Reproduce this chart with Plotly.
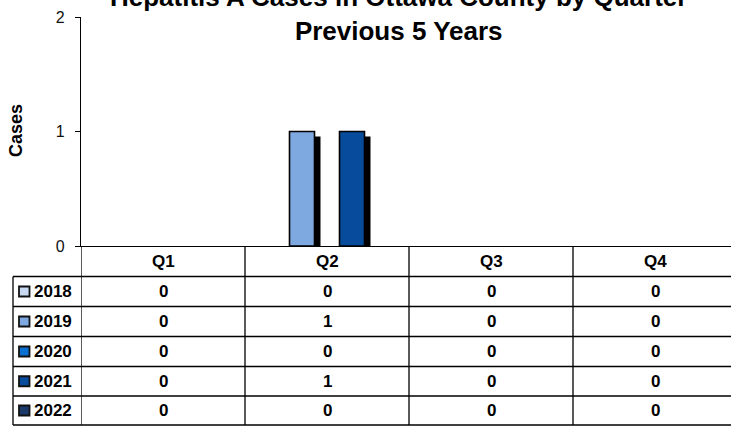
import plotly.graph_objects as go

# --- data -------------------------------------------------------------
quarters = ["Q1", "Q2", "Q3", "Q4"]
years = ["2018", "2019", "2020", "2021", "2022"]
cases_2018 = [0, 0, 0, 0]
cases_2019 = [0, 1, 0, 0]
cases_2020 = [0, 0, 0, 0]
cases_2021 = [0, 1, 0, 0]
cases_2022 = [0, 0, 0, 0]
series = [cases_2018, cases_2019, cases_2020, cases_2021, cases_2022]
y_ticks = [0, 1, 2]

colors = ["#C6D9F1", "#7EA8E0", "#0A70D2", "#074C9C", "#1C3A69"]
FONT = "Arial, Liberation Sans, sans-serif"

# --- layout geometry (pixels) ---------------------------------------
W, H = 731, 427
L, T, R, B = 81, 17, 731, 246          # plot area edges
COL_W = 164                           # width of one quarter column
ROW_EDGES = [246, 276.5, 306.5, 336.5, 366.5, 396, 425]
TABLE_LEFT = 13
PX_PER_UNIT = (B - T) / (y_ticks[-1] - y_ticks[0])
TABLE_FONT = dict(family=FONT, size=17, color="black")


def px_x(px):
    return (px - L) / (R - L)


def px_y(py):
    return (B - py) / (B - T)


slot = 25 / COL_W                     # width of one bar slot in category units
shadow_dx = 6 / COL_W
shadow_dy = 5 / PX_PER_UNIT

fig = go.Figure()

# drop shadows first so the coloured bars sit on top
for i, vals in enumerate(series):
    fig.add_trace(go.Bar(
        x=quarters,
        y=[v - shadow_dy if v > 0 else None for v in vals],
        width=slot, offset=(i - 2.5) * slot + shadow_dx,
        marker=dict(color="black", line=dict(width=0)),
        showlegend=False, hoverinfo="skip",
    ))

for i, (yr, vals) in enumerate(zip(years, series)):
    fig.add_trace(go.Bar(
        x=quarters, y=[v if v > 0 else None for v in vals], name=yr,
        width=slot, offset=(i - 2.5) * slot,
        marker=dict(color=colors[i], line=dict(color="black", width=1.6)),
        showlegend=False,
    ))

shapes = []
ann = []

# table grid
line = dict(color="black", width=1.3)
for ry in ROW_EDGES[1:]:
    shapes.append(dict(type="line", xref="paper", yref="paper",
                       x0=px_x(TABLE_LEFT), x1=1, y0=px_y(ry), y1=px_y(ry), line=line))
shapes.append(dict(type="line", xref="paper", yref="paper",
                   x0=px_x(TABLE_LEFT), x1=px_x(TABLE_LEFT),
                   y0=px_y(ROW_EDGES[1]), y1=px_y(ROW_EDGES[-1]), line=line))
for c in range(len(quarters)):
    cx = c - 0.5
    shapes.append(dict(type="line", xref="x", yref="paper",
                       x0=cx, x1=cx, y0=px_y(ROW_EDGES[0]), y1=px_y(ROW_EDGES[-1]), line=line))

# header row
hdr_y = px_y((ROW_EDGES[0] + ROW_EDGES[1]) / 2)
for q in quarters:
    ann.append(dict(x=q, xref="x", y=hdr_y, yref="paper", text="<b>%s</b>" % q,
                    showarrow=False, font=TABLE_FONT,
                    xanchor="center", yanchor="middle"))

# body rows: legend key, year, values
for r, (yr, vals) in enumerate(zip(years, series)):
    cy = (ROW_EDGES[r + 1] + ROW_EDGES[r + 2]) / 2
    shapes.append(dict(type="rect", xref="paper", yref="paper",
                       x0=px_x(19), x1=px_x(29.5), y0=px_y(cy - 5), y1=px_y(cy + 5),
                       fillcolor=colors[r], line=dict(color="#111111", width=1.8)))
    ann.append(dict(x=px_x(32), xref="paper", y=px_y(cy), yref="paper",
                    text="<b>%s</b>" % yr, showarrow=False, font=TABLE_FONT,
                    xanchor="left", yanchor="middle"))
    for q, v in zip(quarters, vals):
        ann.append(dict(x=q, xref="x", y=px_y(cy), yref="paper", text="<b>%d</b>" % v,
                        showarrow=False, font=TABLE_FONT,
                        xanchor="center", yanchor="middle"))

# title (runs past the top edge)
ann.append(dict(x=px_x(398), xref="paper", y=px_y(48), yref="paper",
                text="<b>Hepatitis A Cases in Ottawa County by Quarter<br>Previous 5 Years</b>",
                showarrow=False, font=dict(family=FONT, size=26, color="black"),
                xanchor="center", yanchor="bottom", align="center"))

# y-axis title
ann.append(dict(x=px_x(16), xref="paper", y=px_y(131), yref="paper",
                text="<b>Cases</b>", textangle=-90, showarrow=False,
                font=dict(family=FONT, size=18, color="black"),
                xanchor="center", yanchor="middle"))

fig.update_layout(
    width=W, height=H,
    margin=dict(l=L, r=W - R, t=T, b=H - B, pad=0),
    paper_bgcolor="white", plot_bgcolor="white",
    barmode="overlay",
    showlegend=False,
    shapes=shapes, annotations=ann,
    xaxis=dict(type="category", categoryorder="array", categoryarray=quarters,
               range=[-0.5, -0.5 + (R - L) / COL_W],
               showticklabels=False, ticks="", showgrid=False, zeroline=False,
               showline=True, linecolor="black", linewidth=1.3, fixedrange=True),
    yaxis=dict(range=[y_ticks[0], y_ticks[-1]], tickvals=y_ticks,
               ticks="outside", ticklen=5, tickwidth=1.3, tickcolor="black",
               ticklabelstandoff=7,
               tickfont=dict(family=FONT, size=16, color="#111111"),
               showgrid=False, zeroline=False,
               showline=True, linecolor="black", linewidth=1.3, fixedrange=True),
)

fig.write_html("out.html")
